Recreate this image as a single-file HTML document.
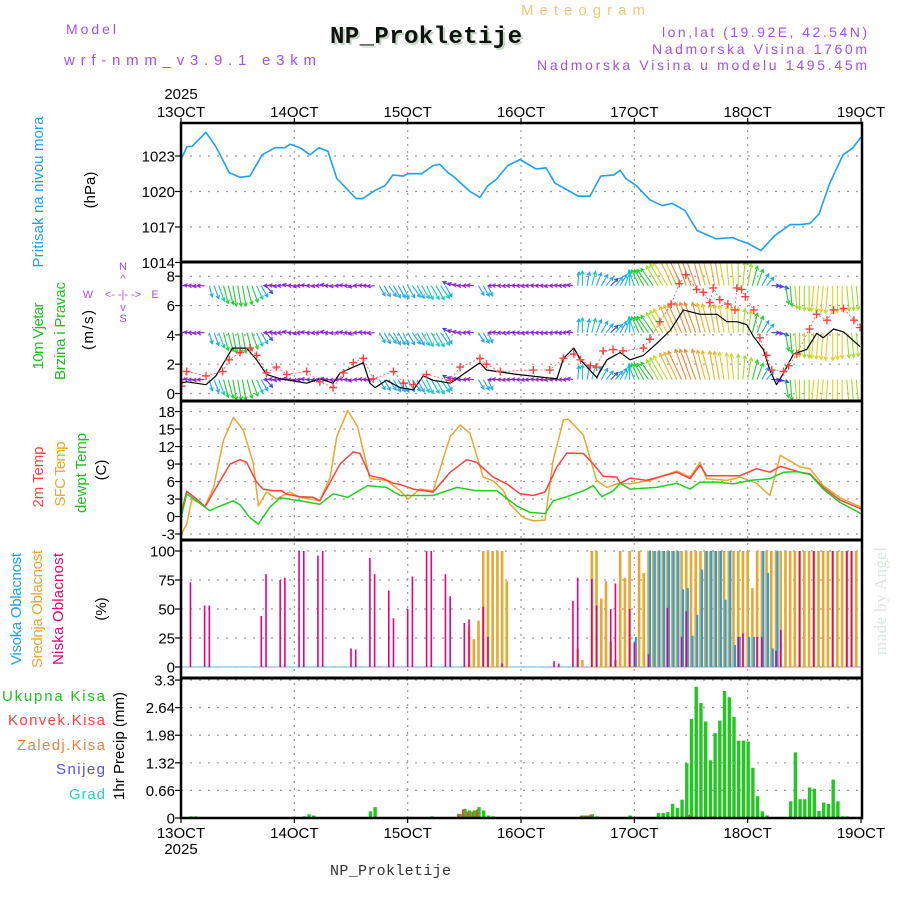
<!DOCTYPE html>
<html><head><meta charset="utf-8"><style>
html,body{margin:0;padding:0;background:#fff;}
svg{display:block;font-family:"Liberation Sans",sans-serif;}
</style></head><body>
<svg id="chart" width="900" height="900" viewBox="0 0 900 900" xmlns="http://www.w3.org/2000/svg">
<defs>
<clipPath id="cpP"><rect x="181" y="123" width="681" height="139"/></clipPath>
<clipPath id="cpW"><rect x="181" y="262" width="681" height="139"/></clipPath>
<clipPath id="cpT"><rect x="181" y="401" width="681" height="139"/></clipPath>
<clipPath id="cpC"><rect x="181" y="540" width="681" height="138"/></clipPath>
<clipPath id="cpR"><rect x="181" y="678" width="681" height="140"/></clipPath>
</defs>
<rect x="0" y="0" width="900" height="900" fill="#fff"/>
<g>
<text x="66" y="34" font-size="14" fill="#a050f0" textLength="50" lengthAdjust="spacing">Model</text>
<text x="64" y="65" font-size="15" fill="#a050f0" textLength="252" lengthAdjust="spacing">wrf-nmm_v3.9.1 e3km</text>
<text x="521" y="15" font-size="15" fill="#f0c878" textLength="124" lengthAdjust="spacing">Meteogram</text>
<text x="332" y="45" font-size="24" font-weight="bold" font-family="Liberation Mono, monospace" fill="#c8d8c8" textLength="192" lengthAdjust="spacing">NP_Prokletije</text>
<text x="330" y="43" font-size="24" font-weight="bold" font-family="Liberation Mono, monospace" fill="#111" textLength="192" lengthAdjust="spacing">NP_Prokletije</text>
<text x="867" y="37" font-size="14" fill="#a050f0" text-anchor="end" textLength="205" lengthAdjust="spacing">lon,lat (19.92E, 42.54N)</text>
<text x="867" y="54" font-size="14" fill="#a050f0" text-anchor="end" textLength="215" lengthAdjust="spacing">Nadmorska Visina 1760m</text>
<text x="867" y="70" font-size="14" fill="#a050f0" text-anchor="end" textLength="330" lengthAdjust="spacing">Nadmorska Visina u modelu 1495.45m</text>
</g>
<g font-size="15">
<text transform="translate(43,192) rotate(-90)" text-anchor="middle" fill="#20a0f0" textLength="151" lengthAdjust="spacing">Pritisak na nivou mora</text>
<text transform="translate(95,190) rotate(-90)" text-anchor="middle" fill="#000">(hPa)</text>
<text transform="translate(43,336) rotate(-90)" text-anchor="middle" fill="#20c020" textLength="67" lengthAdjust="spacing">10m Vjetar</text>
<text transform="translate(65,331) rotate(-90)" text-anchor="middle" fill="#20c020" textLength="98" lengthAdjust="spacing">Brzina i Pravac</text>
<text transform="translate(93,330) rotate(-90)" text-anchor="middle" fill="#000" textLength="40" lengthAdjust="spacing">(m/s)</text>
<g fill="#a050f0" font-size="11">
<text x="123" y="270" text-anchor="middle">N</text>
<text x="123" y="282" text-anchor="middle">^</text>
<text x="88" y="298" text-anchor="middle">W</text>
<text x="123" y="298" text-anchor="middle">&lt;- -|- -&gt;</text>
<text x="155" y="298" text-anchor="middle">E</text>
<text x="123" y="311" text-anchor="middle">v</text>
<text x="123" y="322" text-anchor="middle">S</text>
</g>
<text transform="translate(43,477) rotate(-90)" text-anchor="middle" fill="#ff4040" textLength="61" lengthAdjust="spacing">2m Temp</text>
<text transform="translate(65,474) rotate(-90)" text-anchor="middle" fill="#e8a830" textLength="65" lengthAdjust="spacing">SFC Temp</text>
<text transform="translate(86,473) rotate(-90)" text-anchor="middle" fill="#20c020" textLength="80" lengthAdjust="spacing">dewpt Temp</text>
<text transform="translate(106,470) rotate(-90)" text-anchor="middle" fill="#000">(C)</text>
<text transform="translate(21,609) rotate(-90)" text-anchor="middle" fill="#20a0f0" textLength="112" lengthAdjust="spacing">Visoka Oblacnost</text>
<text transform="translate(42,609) rotate(-90)" text-anchor="middle" fill="#e8a830" textLength="118" lengthAdjust="spacing">Srednja Oblacnost</text>
<text transform="translate(63,609) rotate(-90)" text-anchor="middle" fill="#e8007e" textLength="112" lengthAdjust="spacing">Niska Oblacnost</text>
<text transform="translate(106,609) rotate(-90)" text-anchor="middle" fill="#000">(%)</text>
<text x="105" y="701" text-anchor="end" fill="#20c020" textLength="103" lengthAdjust="spacing">Ukupna Kisa</text>
<text x="105" y="725" text-anchor="end" fill="#ff4040" textLength="97" lengthAdjust="spacing">Konvek.Kisa</text>
<text x="105" y="750" text-anchor="end" fill="#f08040" textLength="88" lengthAdjust="spacing">Zaledj.Kisa</text>
<text x="105" y="774" text-anchor="end" fill="#5050f0" textLength="49" lengthAdjust="spacing">Snijeg</text>
<text x="105" y="799" text-anchor="end" fill="#30c8c8" textLength="36" lengthAdjust="spacing">Grad</text>
<text transform="translate(124,746) rotate(-90)" text-anchor="middle" fill="#000" textLength="108" lengthAdjust="spacing">1hr Precip (mm)</text>
<text transform="translate(886,601) rotate(-90)" text-anchor="middle" fill="#dde6dd" font-size="17" font-family="Liberation Serif, serif" textLength="108" lengthAdjust="spacing">made by Angel</text>
<text x="330" y="875" font-size="15" font-family="Liberation Mono, monospace" fill="#333" textLength="121" lengthAdjust="spacing">NP_Prokletije</text>
</g>
<g id="grid"></g>
<g id="marks"></g>
<g id="axes"></g>
</svg>
<script>
// ---- data ----
const dayLabels = ["13OCT","14OCT","15OCT","16OCT","17OCT","18OCT","19OCT"];
const presTicks = [1014,1017,1020,1023];
const windTicks = [0,2,4,6,8];
const tempTicks = [-3,0,3,6,9,12,15,18];
const cloudTicks = [0,25,50,75,100];
const precTicks = [0,0.66,1.32,1.98,2.64,3.3];
const precTickLabels = ["0","0.66","1.32","1.98","2.64","3.3"];

const presH = [0,1.3,2.3,5.3,7.2,8.3,10.2,12.5,14.6,17.2,19.9,22,23.1,25.2,27.3,29.2,31.1,33,37.1,38.5,41.1,43.2,44.9,47,48.1,51,53.4,54.8,56.5,57.6,61.2,63.3,65,66.7,69.2,71.8,75.2,77.3,79.2,82.4,84.1,86.6,88.9,91.7,93,94.2,96.4,99.3,101.9,104,106.7,109.3,113.3,116.9,118,120.1,122.8,125.8,129,131.1,133.2,135.1,137.4,140.2,142.3,144];
const presV = [1022.7,1023.8,1023.8,1025.0,1023.9,1023.1,1021.6,1021.2,1021.3,1023.1,1023.7,1023.7,1024.0,1023.7,1023.1,1023.7,1023.4,1021.1,1019.4,1019.4,1020.1,1020.5,1021.4,1021.3,1021.5,1021.5,1022.2,1022.3,1021.6,1021.3,1020.0,1019.5,1020.5,1021.0,1022.2,1022.7,1021.9,1022.0,1020.7,1020.0,1019.6,1019.6,1021.3,1021.4,1021.8,1021.1,1020.5,1019.3,1018.8,1019.0,1018.4,1016.7,1016.0,1016.1,1015.9,1015.6,1015.0,1016.3,1017.2,1017.2,1017.3,1018.1,1020.7,1023.1,1023.7,1024.6];

const windH = [0,1.2,5.3,7.4,10.9,13.9,16,18.1,21,23,26.6,29.4,32.2,33.7,36.5,38.6,40,41.1,43.5,46.4,49.2,51.3,53.4,57,63.3,64.7,71.1,79.6,81,83.2,84.6,88,90.2,93,95.1,97.9,100.7,103.6,106.4,109.9,113.5,115.6,117.7,119.8,121.2,123.3,124.7,126.1,127.6,129.7,132.5,134.6,136,138.2,140.3,143.8];
const windV = [0.7,0.8,0.6,1.2,3.1,3.1,2.3,1.3,1,0.9,0.7,1,0.7,1.4,1.8,2.1,0.7,0.4,0.9,0.4,0.25,1.2,0.9,0.7,2.1,1.6,1.3,1,2.4,3.1,2.3,1.1,2.3,2.8,2.3,2.6,3.4,4.3,5.7,5.4,5.4,4.9,4.9,4.7,3.9,3,1.6,0.6,1.4,2.7,3,4.1,3.8,4.4,4.2,3.2];
const gustH = [0.1,1.2,5.3,8.8,10.2,12.5,14.6,16,18.1,20.2,22.4,26.6,29.4,32.2,34.4,36.5,38.6,40.7,45,47.1,49.2,52,57,59.1,63.3,64.7,67.6,74.6,78.1,81,83.2,84.6,86.7,88,89.4,91.5,93.6,97.9,99.3,101.4,103.8,105.5,106.9,109.2,110.6,112,112.7,114.1,115.8,117.3,117.7,118.7,119.5,121.3,122.6,124,125.1,127.6,128.7,130.4,133.1,134.6,136.8,138.2,140.3,142.5,143.8];
const gustV = [0.5,1.5,1.2,1.5,2.3,2.8,3.1,2.6,1.4,1.8,1.3,1.5,0.8,0.4,1.4,2.1,2.4,1,1.5,0.7,0.6,1.3,0.9,1.8,2.4,2,1.5,1.6,1.6,2.4,2.7,2.3,1.9,1.8,2.9,3,2.9,3.1,3.7,4.9,6.1,7.5,8.1,7.1,6.9,6.2,7.2,6.4,6.1,5.7,7.2,7.1,6.6,5.7,3.8,2.6,1.6,1.5,1.9,2.7,4.4,5.4,5,5.7,5.8,5,4.5];

// hourly wind arrows (hour index = array index)
const arrowDir = [270,270,275,270,265,270,
 165,160,160,165,165,170,170,170,165,160,155,150,140,
 270,275,265,270,280,270,260,270,275,270,265,270,280,270,265,270,275,270,260,270,275,270,265,
 150,150,145,150,150,155,150,145,150,150,155,150,150,145,150,
 300,290,280,270,270,275,
 150,150,155,
 270,275,270,265,270,275,270,265,270,275,270,270,265,270,275,270,270,280,
 5,0,10,15,20,30,40,45,40,30,20,0,
 340,335,330,325,325,330,330,330,335,335,335,340,340,340,345,345,345,350,350,350,355,355,0,5,
 10,15,20,30,40,
 90,100,110,
 170,175,175,180,180,180,185,185,185,185,180,180,180,175,175,175,170];
const arrowSpd = [1.5,1.5,1.4,1.5,1.5,1.6,
 2.5,3,3.5,4,4.2,4.5,4.5,4.5,4.2,3.8,3.2,2.8,2.2,
 1.5,1.4,1.5,1.6,1.5,1.4,1.3,1.5,1.6,1.5,1.4,1.5,1.5,1.6,1.5,1.4,1.5,1.5,1.6,1.5,1.4,1.5,1.6,
 2.5,2.7,2.8,3,3,3,3,3,3.1,3.2,3.3,3.4,3.5,3.3,2.8,
 1.8,1.6,1.5,1.5,1.4,1.5,
 2.4,2.6,2.4,
 1,1.1,1,1,1.1,1,1,1,1.1,1,1,1,1.1,1,1,1.1,1.2,1.3,
 3,3.2,3,3.2,3,2.8,2.4,2.2,2.4,2.8,3.2,3.4,
 3.6,3.8,4,4.3,4.6,5,5.5,6,6.3,6.6,6.8,7,7,7,6.8,6.6,6.5,6.3,6.2,6,5.8,5.6,5.5,5.2,
 4.8,4.4,3.8,3,2.4,
 1.8,1.5,1.8,
 4,4.5,5,5.2,5.4,5.5,5.6,5.7,5.8,6,6,5.8,5.6,5.5,5.4,5.2,5];
const arrowLevels = [7.35,4.15,0.95];

const t2H = [0,1.2,3.3,5.1,7.9,10.4,12.5,13.9,16,17.4,19.5,21.3,22.4,25.2,28,29.4,31.6,33.7,36.5,37.9,40,42.8,45,46.4,49.2,53.4,57,60.5,62.6,66.1,69,71.8,74.6,77.1,79.6,81.7,85.2,87.3,89.4,92.3,93,95.1,98.6,105,107.8,109.9,111.3,115.6,118.4,121.9,124.7,126.9,131.1,133.2,136,139.6,144];
const t2V = [0.5,4.3,3,1.7,5.6,9,9.75,9.3,5.9,4.7,4.4,4.4,3.8,3.4,3.3,2.7,5.9,9,11.1,10.8,7,6.5,5.7,5.5,4.7,4.2,7.6,9.75,9.3,6.75,5.6,3.9,3.6,4.2,8.5,10.9,10.8,9,6.9,6.75,5.7,6.6,6.2,7.6,6.5,8.8,7,7,7,8.2,7.6,8.6,7.6,7.3,5,2.8,1.3];
const sfcH = [0,1.2,2.3,5.1,6.9,9,11.1,13.2,15.3,16.4,18.1,20.2,23,25.2,29.4,31.6,33,35.3,37.4,40,43.5,46.4,48.1,50.6,53.4,57,59.1,61.2,64,66.1,68.3,69.7,72.5,74.6,77.1,78.8,81,82,85.2,88,90.2,92.3,93,95.1,99.3,105,107.8,109.9,111.3,115.6,118.4,121.9,124.7,126.9,131.1,133.2,136,139.6,144];
const sfcV = [-3.1,-1.3,3,1.8,5,13.1,17,14.8,9.1,1.8,4.2,3,4.2,3.3,2.7,6.8,13.7,18.2,15.4,6.5,6.2,4.4,3,4.7,4.4,13.7,15.7,14.3,6.75,6.1,4.4,2.1,-0.2,-0.75,-0.6,9.6,16.6,16.7,14,6.2,5,5.6,5.7,5.6,6.2,7.8,6.75,9.3,6.5,6.2,6.75,5.7,3.6,10.5,8.5,8.2,5.3,3.2,1.6];
const dewH = [0,1.2,3.3,6.1,8.3,11.1,12.5,14.6,16.4,18.8,21,25.2,29.4,32.2,35.3,39.5,43.5,46.4,49.2,53.4,58.4,62.6,66.9,71.1,73.9,77.1,78.8,81.7,85.2,87.3,89.1,91.5,93,95.1,100.7,105,107.8,109.9,113.5,117,120.5,124.7,127.6,130.4,133.2,136,139.6,144];
const dewV = [-0.2,3.9,2.7,1,1.8,2.7,2,-0.2,-1.3,1.6,3.2,2.7,2.1,3.9,3.3,5.3,5,3.6,3.6,3.6,5,4.4,4.4,1.8,0.7,0.5,2.7,3.4,4.4,5.3,3.4,4.4,5.7,4.7,5,5.7,4.7,5.9,5.9,5.6,6.2,6.5,7.6,7.7,7.2,4.7,2.4,0.5];

const lowH = [2,5,6,17,18,21,22,25,26,29,30,36,37,40,41,44,45,48,49,52,53,56,57,60,61,64,65,68,79,80,83,84,87,88,91,92,95,96,99,103,106,107,118,119,122,123,126,127,131,134,138,141,142];
const lowV = [73,53,53,44,80,75,77,100,100,96,100,16,15,94,80,66,42,50,78,100,100,80,61,38,41,52,26,3,5,3,57,77,76,53,50,72,50,21,11,51,26,48,26,29,26,26,14,32,100,100,100,100,100];
const midH = [61,62,63,64,65,66,67,68,69,84,85,87,88,89,90,91,92,93,94,95,97,98,99,100,101,102,103,104,105,106,107,108,109,110,111,112,113,114,115,116,117,118,119,120,121,122,123,124,125,126,127,128,129,130,131,132,133,134,135,136,137,138,139,140,141,142,143];
const midV = [35,24,40,100,100,100,100,100,74,16,6,100,100,59,74,22,6,100,77,100,100,81,100,100,100,100,100,100,100,100,100,100,100,100,100,100,100,100,100,100,100,100,100,100,68,100,100,100,100,100,100,100,100,100,100,100,100,100,100,100,100,100,100,100,100,100,100];
const highH = [96,99,100,101,102,103,104,105,106,107,108,109,110,111,112,113,114,115,116,117,118,120,121,123,124,125,126];
const highV = [26,100,100,100,100,100,100,100,67,68,27,45,84,100,100,100,100,58,100,19,26,26,26,100,81,16,100];

const precH = [2,3,26,27,28,40,41,53,59,60,61,62,63,64,65,66,85,86,87,88,95,101,102,103,104,105,106,107,108,109,110,111,112,113,114,115,116,117,118,119,120,121,122,123,124,129,130,131,132,133,134,135,136,137,138,139,140,141];
const precV = [0.04,0.04,0.04,0.09,0.06,0.16,0.26,0.04,0.1,0.22,0.18,0.18,0.26,0.18,0.06,0.04,0.06,0.06,0.09,0.04,0.06,0.12,0.12,0.14,0.34,0.24,0.44,1.31,2.37,3.14,2.75,2.31,1.38,2.03,2.33,3.04,2.89,2.42,1.85,1.85,1.83,1.2,0.52,0.16,0.06,0.4,1.57,0.45,0.45,0.73,0.7,0.17,0.37,0.34,0.92,0.4,0.04,0.04];
const convH = [59,60,61,62,63,85,86,87,108,113];
const convV = [0.1,0.2,0.15,0.15,0.2,0.06,0.06,0.08,0.08,0.04];

// ---- scales ----
const X = h => 181 + h * (680 / 144);
const yP = p => 156 + (1023 - p) * 11.83;
const yW = v => 393.5 - v * 14.66;
const yT = t => 516.5 - t * 5.83;
const yC = v => 667 - v * 1.16;
const yR = v => 818 - v * 41.8;

const NS = "http://www.w3.org/2000/svg";
function mk(tag, attrs, parent) {
  const e = document.createElementNS(NS, tag);
  for (const k in attrs) e.setAttribute(k, attrs[k]);
  parent.appendChild(e);
  return e;
}
const grid = document.getElementById('grid');
const marks = document.getElementById('marks');
const axes = document.getElementById('axes');

for (let d = 1; d < 6; d++) {
  const x = X(d * 24);
  const l = mk('line', {x1:x, x2:x, y1:123, y2:818, stroke:'#9a9a9a', 'stroke-width':1.2, 'stroke-dasharray':'2,5'}, grid);
  
  
}
function hgrid(ticks, yf, labels, cls) {
  ticks.forEach((t, i) => {
    const y = yf(t);
    const l = mk('line', {x1:181, x2:862, y1:y, y2:y, stroke:'#9a9a9a', 'stroke-width':1.2, 'stroke-dasharray':'2,7'}, grid);
    
    
    mk('line', {x1:175, x2:181, y1:y, y2:y, stroke:'#000', 'stroke-width':1.2}, axes);
    const tx = mk('text', {x:175, y:y + 5.5, 'font-size':15, 'text-anchor':'end', fill:'#000'}, axes);
    tx.textContent = labels ? labels[i] : String(t);
    
    
  });
}
hgrid(presTicks, yP, null, 'pressure');
hgrid(windTicks, yW, null, 'wind');
hgrid(tempTicks, yT, null, 'temp');
hgrid(cloudTicks, yC, null, 'cloud');
hgrid(precTicks, yR, precTickLabels, 'precip');

mk('rect', {x:181, y:123, width:681, height:695, fill:'none', stroke:'#000', 'stroke-width':2.5}, axes);
[262,401,540,678].forEach(y => {
  const l = mk('line', {x1:181, x2:862, y1:y, y2:y, stroke:'#000', 'stroke-width':3}, axes);
  
  
});
dayLabels.forEach((lab, d) => {
  const x = X(d * 24);
  mk('line', {x1:x, x2:x, y1:118, y2:123, stroke:'#000', 'stroke-width':1.2}, axes);
  mk('line', {x1:x, x2:x, y1:818, y2:823, stroke:'#000', 'stroke-width':1.2}, axes);
  const t1 = mk('text', {x:x, y:117, 'font-size':15, 'text-anchor':'middle', fill:'#000'}, axes);
  t1.textContent = lab;
  
  
  const t2 = mk('text', {x:x, y:838, 'font-size':15, 'text-anchor':'middle', fill:'#000'}, axes);
  t2.textContent = lab;
  
  
});
const y1 = mk('text', {x:181, y:99, 'font-size':15, 'text-anchor':'middle', fill:'#000'}, axes);
y1.textContent = '2025';


const y2 = mk('text', {x:181, y:854, 'font-size':15, 'text-anchor':'middle', fill:'#000'}, axes);
y2.textContent = '2025';



function line(hs, vs, yf, color, clip, name, w) {
  const d = hs.map((h, i) => (i ? 'L' : 'M') + X(h).toFixed(1) + ',' + yf(vs[i]).toFixed(1)).join('');
  const p = mk('path', {d:d, fill:'none', stroke:color, 'stroke-width':w || 1.5, 'clip-path':'url(#' + clip + ')', 'stroke-linejoin':'round'}, marks);
  
  
  return p;
}
line(presH, presV, yP, '#1ea0f5', 'cpP', 'pressure-line', 1.6);

function spdColor(s) {
  if (s < 1.8) return '#9020e0';
  if (s < 2.4) return '#3048f0';
  if (s < 3.2) return '#20a8f0';
  if (s < 3.8) return '#10c8c0';
  if (s < 4.8) return '#20d030';
  if (s < 5.6) return '#a0e020';
  if (s < 6.2) return '#e0d020';
  if (s < 6.8) return '#f0b020';
  if (s < 7.5) return '#f08830';
  return '#f03070';
}
const wg = mk('g', {'clip-path':'url(#cpW)'}, marks);


arrowLevels.forEach(lv => {
  arrowDir.forEach((dir, h) => {
    const x0 = X(h), y0 = yW(lv);
    const a = dir * Math.PI / 180;
    const len = arrowSpd[h] * 4.6;
    const x1 = x0 + Math.sin(a) * len, y1 = y0 - Math.cos(a) * len;
    const c = spdColor(arrowSpd[h]);
    const hl = 3.8;
    const ha1 = a + Math.PI - 0.5, ha2 = a + Math.PI + 0.5;
    const d = 'M' + x0.toFixed(1) + ',' + y0.toFixed(1) + 'L' + x1.toFixed(1) + ',' + y1.toFixed(1) +
      'M' + (x1 + Math.sin(ha1) * hl).toFixed(1) + ',' + (y1 - Math.cos(ha1) * hl).toFixed(1) + 'L' + x1.toFixed(1) + ',' + y1.toFixed(1) +
      'L' + (x1 + Math.sin(ha2) * hl).toFixed(1) + ',' + (y1 - Math.cos(ha2) * hl).toFixed(1);
    const p = mk('path', {d:d, fill:'none', stroke:c, 'stroke-width':1.1}, wg);
    
    
  });
});
line(windH, windV, yW, '#000', 'cpW', 'wind-speed-line', 1.2);
line(gustH, gustV, yW, '#ff5050', 'cpW', 'wind-gust-line', 0.8).setAttribute('stroke-dasharray', '2,2');
gustH.forEach((h, i) => {
  const x = X(h), y = yW(gustV[i]);
  const p = mk('path', {d:'M' + (x - 4) + ',' + y + 'H' + (x + 4) + 'M' + x + ',' + (y - 4) + 'V' + (y + 4), stroke:'#ff4040', 'stroke-width':1.4, 'clip-path':'url(#cpW)'}, marks);
  
  
});

line(sfcH, sfcV, yT, '#e8a830', 'cpT', 'sfc-temp-line', 1.5);
line(t2H, t2V, yT, '#ff4040', 'cpT', 'temp-2m-line', 1.5);
line(dewH, dewV, yT, '#20d020', 'cpT', 'dewpoint-line', 1.5);

const base0 = mk('line', {x1:181, x2:862, y1:yC(0), y2:yC(0), stroke:'#80c8e8', 'stroke-width':1.2}, marks);


function bars(hs, vs, yf, color, w, off, clip, name) {
  hs.forEach((h, i) => {
    const x = X(h) + off - w / 2;
    const y = yf(vs[i]);
    const r = mk('rect', {x:x.toFixed(2), y:y.toFixed(2), width:w, height:Math.max(0, yf(0) - y).toFixed(2), fill:color, 'clip-path':'url(#' + clip + ')'}, marks);
    
    
  });
}
bars(midH, midV, yC, '#e8a830', 2.6, 0, 'cpC', 'mid-cloud-bar');
bars(highH, highV, yC, '#20a0f0', 2.2, 1.5, 'cpC', 'high-cloud-bar');
bars(lowH, lowV, yC, '#e8007e', 1.6, 0, 'cpC', 'low-cloud-bar');

bars(precH, precV, yR, '#20c820', 3.4, 0.5, 'cpR', 'total-precip-bar');
bars(convH, convV, yR, '#ff4040', 2, -1.5, 'cpR', 'convective-precip-bar');
</script>
</body></html>
